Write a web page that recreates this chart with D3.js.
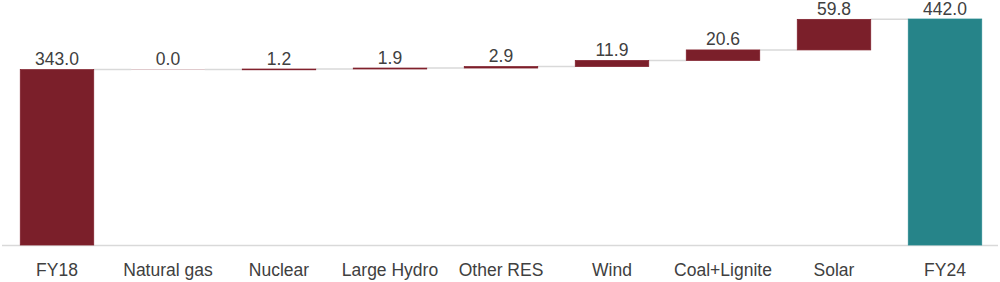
<!DOCTYPE html>
<html><head><meta charset="utf-8">
<script src="https://cdn.jsdelivr.net/npm/d3@7"></script>
<style>body{margin:0;background:#fff}svg{display:block}</style>
</head><body><div id="chart"></div>
<script>
const categories = ["FY18","Natural gas","Nuclear","Large Hydro","Other RES","Wind","Coal+Lignite","Solar","FY24"];
const values = [343.0, 0.0, 1.2, 1.9, 2.9, 11.9, 20.6, 59.8, 442.0];
const kinds = ["total","delta","delta","delta","delta","delta","delta","delta","total"];
const labels = ["343.0","0.0","1.2","1.9","2.9","11.9","20.6","59.8","442.0"];

const W = 1000, H = 282;
const svg = d3.select("#chart").append("svg").attr("width", W).attr("height", H);
const x = d3.scaleBand().domain(categories).range([1.5, 1000.5]).paddingInner(0.338).paddingOuter(0.169);
const y = d3.scaleLinear().domain([0, 442]).range([245, 19]);

let cum = 0;
const rows = categories.map((c, i) => {
  let lo, hi;
  if (kinds[i] === "total") { lo = 0; hi = values[i]; cum = values[i]; }
  else { lo = cum; hi = cum + values[i]; cum = hi; }
  return {c, lo, hi, kind: kinds[i], label: labels[i]};
});

// axis line
svg.append("line").attr("x1", 2).attr("x2", 998).attr("y1", y(0)+0.5).attr("y2", y(0)+0.5)
  .attr("stroke", "#d9d9d9").attr("stroke-width", 1.5);

// connectors
for (let i = 0; i < rows.length - 1; i++) {
  const lvl = rows[i].hi;
  svg.append("line")
    .attr("x1", x(rows[i].c) + x.bandwidth()).attr("x2", x(rows[i+1].c))
    .attr("y1", y(lvl)).attr("y2", y(lvl))
    .attr("stroke", "#d9d9d9").attr("stroke-width", 1.5);
}

svg.selectAll("rect.bar").data(rows).join("rect").attr("class","bar")
  .attr("x", d => x(d.c)).attr("width", x.bandwidth())
  .attr("y", d => y(d.hi) - (d.hi === d.lo ? 0.4 : 0)).attr("height", d => Math.max(0.8, y(d.lo) - y(d.hi)))
  .attr("fill", d => d.c === "FY24" ? "#268489" : "#7b1f2a")
  .attr("fill-opacity", d => d.hi === d.lo ? 0.3 : 1)
  .attr("stroke", d => d.c === "FY24" ? "#2a8a8f" : "#80202c")
  .attr("stroke-opacity", d => d.hi === d.lo ? 0 : 1)
  .attr("stroke-width", 0.75);

svg.selectAll("text.val").data(rows).join("text").attr("class","val")
  .attr("x", d => x(d.c) + x.bandwidth()/2).attr("y", d => y(d.hi) - 4.5)
  .attr("text-anchor", "middle").attr("font-family", "Liberation Sans, Arial, sans-serif")
  .attr("font-size", 17.5).attr("fill", "#404040").text(d => d.label);

svg.selectAll("text.cat").data(rows).join("text").attr("class","cat")
  .attr("x", d => x(d.c) + x.bandwidth()/2).attr("y", 276)
  .attr("text-anchor", "middle").attr("font-family", "Liberation Sans, Arial, sans-serif")
  .attr("font-size", 17.5).attr("fill", "#404040").text(d => d.c);
</script></body></html>
